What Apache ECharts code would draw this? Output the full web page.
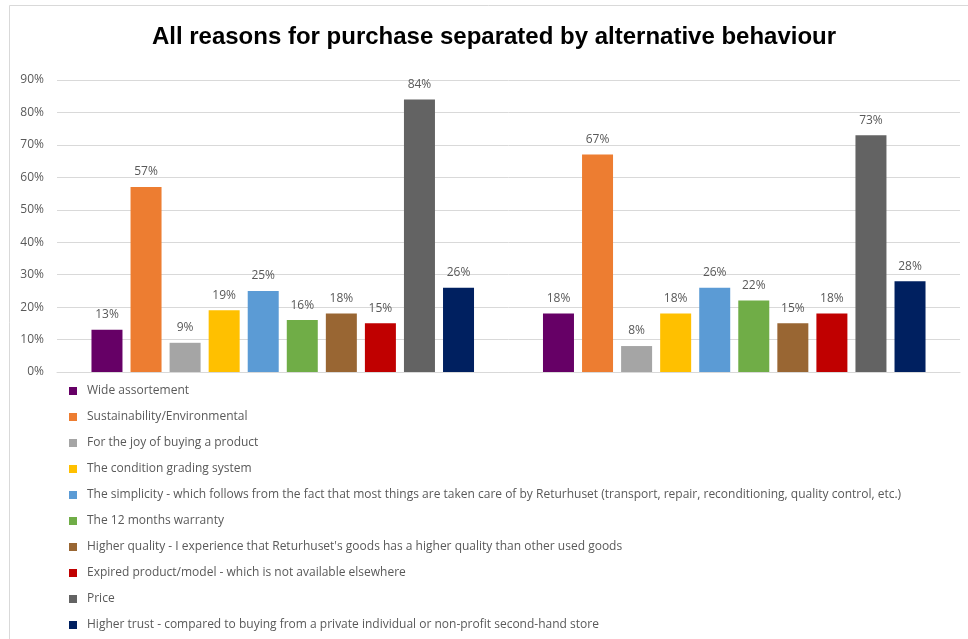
<!DOCTYPE html>
<html>
<head>
<meta charset="utf-8">
<script src="https://cdn.jsdelivr.net/npm/echarts@6/dist/echarts.min.js"></script>
<style>
  html, body { margin: 0; padding: 0; background: #fff; }
  #chart { width: 968px; height: 639px; }
</style>
</head>
<body>
<div id="chart"></div>
<script>
// Two groups of respondents, one bar per purchase reason
const categories = ['', ''];

const reasons = [
  'Wide assortement',
  'Sustainability/Environmental',
  'For the joy of buying a product',
  'The condition grading system',
  'The simplicity - which follows from the fact that most things are taken care of by Returhuset (transport, repair, reconditioning, quality control, etc.)',
  'The 12 months warranty',
  "Higher quality - I experience that Returhuset's goods has a higher quality than other used goods",
  'Expired product/model - which is not available elsewhere',
  'Price',
  'Higher trust - compared to buying from a private individual or non-profit second-hand store'
];

// Share of respondents (%) per reason, group 1 then group 2
const wideAssortment   = [13, 18];
const sustainability   = [57, 67];
const joyOfBuying      = [9, 8];
const conditionGrading = [19, 18];
const simplicity       = [25, 26];
const warranty         = [16, 22];
const higherQuality    = [18, 15];
const expiredProduct   = [15, 18];
const price            = [84, 73];
const higherTrust      = [26, 28];

const seriesValues = [
  wideAssortment, sustainability, joyOfBuying, conditionGrading, simplicity,
  warranty, higherQuality, expiredProduct, price, higherTrust
];

const colors = ['#660066', '#ED7D31', '#A5A5A5', '#FFC000', '#5B9BD5',
                '#70AD47', '#996633', '#C00000', '#636363', '#002060'];

const yTicks = [0, 10, 20, 30, 40, 50, 60, 70, 80, 90];

const chart = echarts.init(document.getElementById('chart'));

const series = reasons.map((name, i) => ({
  name: name,
  type: 'bar',
  data: seriesValues[i],
  barWidth: 31,
  barGap: '26%',
  itemStyle: { color: colors[i] },
  label: {
    show: true,
    position: 'top',
    distance: 9,
    formatter: '{c}%',
    color: '#595959',
    fontSize: 12,
    fontFamily: 'Open Sans'
  }
}));

chart.setOption({
  animation: false,
  backgroundColor: '#fff',
  color: colors,
  title: {
    text: 'All reasons for purchase separated by alternative behaviour',
    left: 489,
    textAlign: 'center',
    top: 20,
    textStyle: {
      fontFamily: 'Liberation Sans',
      fontWeight: 'bold',
      fontSize: 24,
      color: '#000'
    }
  },
  graphic: [
    {
      type: 'polyline',
      silent: true,
      shape: { points: [[9.5, 639], [9.5, 5.5], [968, 5.5]] },
      style: { stroke: '#d9d9d9', lineWidth: 1, fill: null }
    }
  ],
  legend: {
    orient: 'vertical',
    left: 64,
    top: 378,
    icon: 'rect',
    itemWidth: 8,
    itemHeight: 8,
    itemGap: 10,
    textStyle: {
      color: '#595959',
      fontSize: 12,
      lineHeight: 14,
      fontFamily: 'Open Sans',
      padding: [0, 0, 2, 5]
    },
    data: reasons
  },
  grid: {
    left: 57,
    right: 8,
    top: 80,
    bottom: 267,
    containLabel: false
  },
  xAxis: {
    type: 'category',
    data: categories,
    axisTick: { show: false },
    axisLabel: { show: false },
    axisLine: { lineStyle: { color: '#d9d9d9', width: 1 } }
  },
  yAxis: {
    type: 'value',
    min: yTicks[0],
    max: yTicks[yTicks.length - 1],
    interval: 10,
    axisLine: { show: false },
    axisTick: { show: false },
    axisLabel: {
      formatter: '{value}%',
      color: '#595959',
      fontSize: 12,
      fontFamily: 'Open Sans',
      margin: 13
    },
    splitLine: { lineStyle: { color: '#d9d9d9', width: 1 } }
  },
  series: series
});
</script>
</body>
</html>
